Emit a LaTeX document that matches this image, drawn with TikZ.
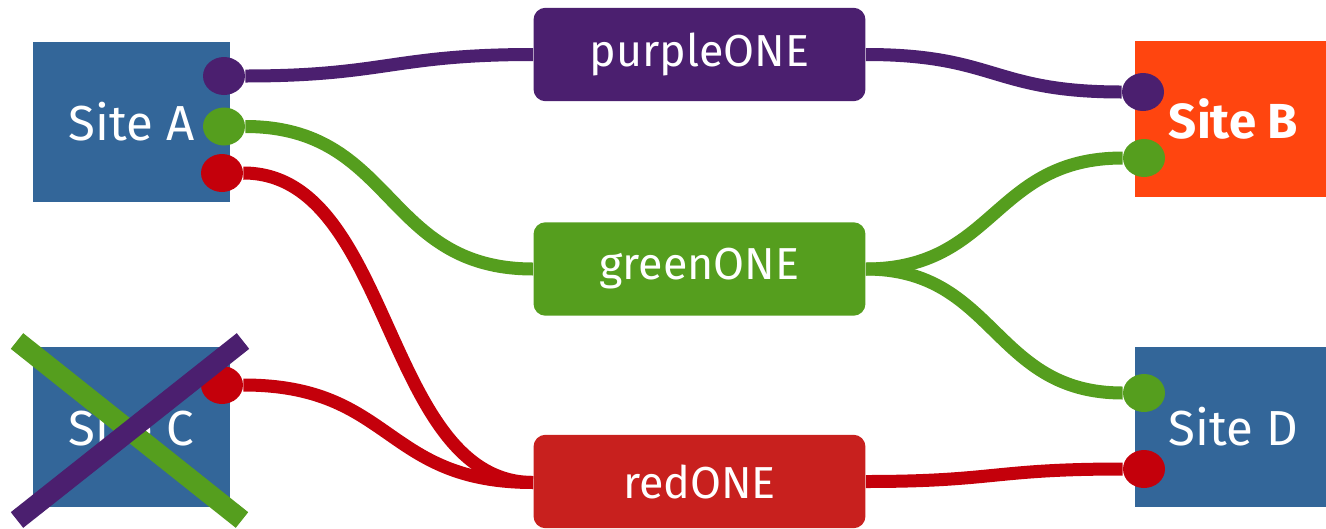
\documentclass[tikz,border=0pt]{standalone}
\usepackage{fontspec}
\setmainfont{Fira Sans}
\usepackage{xcolor}
\usepackage{tikz}
\usetikzlibrary{positioning, calc, shapes.geometric}
\definecolor{SiteBlue}{RGB}{51, 102, 153}
\definecolor{SiteOrange}{RGB}{255, 69, 15}
\definecolor{OnePurple}{RGB}{75, 31, 111}
\definecolor{OneGreen}{RGB}{85, 158, 30}
\definecolor{OneRed}{RGB}{200, 32, 30}
\definecolor{LinkRed}{RGB}{196, 0, 11}

\begin{document}
\begin{tikzpicture}[x=0.02cm, y=-0.02cm,
    site/.style={fill=SiteBlue, text=white, inner sep=0pt,
                 minimum width=3.94cm, minimum height=3.22cm,
                 font=\fontsize{28}{34}\selectfont},
    onebox/.style={fill=#1, text=white, rounded corners=0.24cm, inner sep=0pt,
                   minimum width=6.64cm, minimum height=1.87cm,
                   font=\fontsize{25.5}{30}\selectfont},
    port/.style={ellipse, inner sep=0pt,
                 minimum width=0.84cm, minimum height=0.76cm},
    link/.style={draw=#1, line width=0.26cm},
    cross/.style={draw=#1, line width=0.40cm}]
        \useasboundingbox (0,0) rectangle (1326,528);

        % sites
        \node[site] (siteA) at (131.5,122) {Site A};
        \node[site, fill=SiteOrange, minimum height=3.12cm,
              font=\fontsize{28}{34}\selectfont\bfseries] (siteB) at (1233.5,119) {Site B};
        \node[site] (siteC) at (131.5,427) {Site C};
        \node[site] (siteD) at (1233.5,427) {Site D};

        % the three ONE boxes
        \node[onebox=OnePurple] (purpleONE) at (699.5,54.5) {purpleONE};
        \node[onebox=OneGreen] (greenONE) at (699.5,269) {greenONE};
        \node[onebox=OneRed] (redONE) at (699.5,481.5) {redONE};

        % ports (filled after the links)
        \node[port] (pA1) at (224,76) {};
        \node[port] (pA2) at (224,126.5) {};
        \node[port] (pA3) at (222,173) {};
        \node[port] (pC1) at (222,385) {};
        \node[port] (pB1) at (1143,92) {};
        \node[port] (pB2) at (1144,158) {};
        \node[port] (pD1) at (1144,393) {};
        \node[port] (pD2) at (1144,469) {};

        % links
        \draw[link=OnePurple] (pA1.east) .. controls +(140,0) and +(-140,0) .. (purpleONE.west);
        \draw[link=OnePurple] (purpleONE.east) .. controls +(130,0) and +(-130,0) .. (pB1.west);
        \draw[link=OneGreen] (pA2.east) .. controls +(150,0) and +(-150,0) .. (greenONE.west);
        \draw[link=OneGreen] (greenONE.east) .. controls +(130,0) and +(-130,0) .. (pB2.west);
        \draw[link=OneGreen] (greenONE.east) .. controls +(130,0) and +(-130,0) .. (pD1.west);
        \draw[link=LinkRed] (pA3.east) .. controls +(150,0) and +(-150,0) .. ($(redONE.west)+(0,1)$);
        \draw[link=LinkRed] (pC1.east) .. controls +(150,0) and +(-150,0) .. ($(redONE.west)+(0,1)$);
        \draw[link=LinkRed] (redONE.east) .. controls +(130,0) and +(-130,0) .. (pD2.west);

        % ports on top of the links
        \foreach \p/\c in {pA1/OnePurple, pA2/OneGreen, pA3/LinkRed, pC1/LinkRed,
                           pB1/OnePurple, pB2/OneGreen, pD1/OneGreen, pD2/LinkRed}
          \fill[\c] (\p.center) ellipse [x radius=0.42cm, y radius=0.38cm];

        % site C is struck out
        \coordinate (cTL) at (17,341);
        \coordinate (cBR) at (242,520);
        \coordinate (cTR) at (243,341);
        \coordinate (cBL) at (17,520);
        \draw[cross=OneGreen] (cTL) -- (cBR);
        \draw[cross=OnePurple] (cTR) -- (cBL);
      \end{tikzpicture}
\end{document}
